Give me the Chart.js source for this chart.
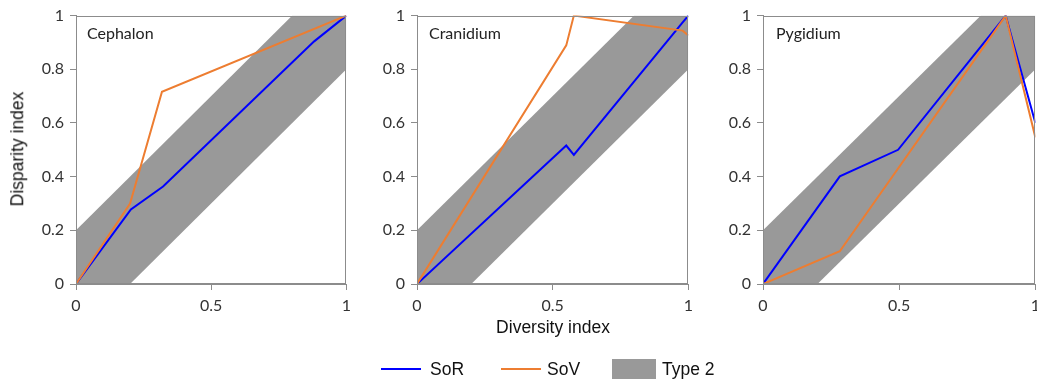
<!DOCTYPE html>
<html>
<head>
<meta charset="utf-8">
<script src="https://cdn.jsdelivr.net/npm/chart.js@4.4.0/dist/chart.umd.min.js"></script>
<style>
  html, body { margin:0; padding:0; width:1037px; height:383px; overflow:hidden; background:#fff; }
  .pane { position:absolute; top:0; height:340px; }
  .lbl { position:absolute; font-family: Lato, "Open Sans", sans-serif; font-size:16px; color:#222; white-space:nowrap; line-height:1; }
  .ttl { position:absolute; font-family: "Liberation Sans", Arial, sans-serif; font-size:17.5px; color:#111; white-space:nowrap; line-height:1; }
  .leg { position:absolute; font-family: "Liberation Sans", Arial, sans-serif; font-size:17.5px; color:#111; line-height:1; white-space:nowrap; }
</style>
</head>
<body>
<div class="pane" id="p0" style="left:0px;width:357px"><canvas id="c0"></canvas></div>
<div class="pane" id="p1" style="left:341px;width:358px"><canvas id="c1"></canvas></div>
<div class="pane" id="p2" style="left:687px;width:359px"><canvas id="c2"></canvas></div>

<div class="lbl" style="left:87px;top:25px">Cephalon</div>
<div class="lbl" style="left:429px;top:25px">Cranidium</div>
<div class="lbl" style="left:776px;top:25px">Pygidium</div>

<div class="ttl" style="left:18px;top:149px;transform:translate(-50%,-50%) rotate(-90deg)">Disparity index</div>
<div class="ttl" style="left:553px;top:328px;transform:translate(-50%,-50%)">Diversity index</div>

<div style="position:absolute;left:381px;top:368px;width:40px;height:2px;background:#0000ff"></div>
<div class="leg" style="left:430px;top:361px">SoR</div>
<div style="position:absolute;left:501px;top:368px;width:40px;height:2px;background:#ed7d31"></div>
<div class="leg" style="left:547px;top:361px">SoV</div>
<div style="position:absolute;left:612px;top:359px;width:44px;height:20px;background:#999999"></div>
<div class="leg" style="left:662px;top:361px">Type 2</div>

<script>
// ---- data ----
const panels = ["Cephalon", "Cranidium", "Pygidium"];
const xTicks = [0, 0.5, 1];
const yTicks = [0, 0.2, 0.4, 0.6, 0.8, 1];

// Type 2 envelope boundaries (y = x +/- 0.2, clipped to the unit square)
const bandUpper = [{x:0,y:0.2},{x:0.8,y:1},{x:1,y:1}];
const bandLower = [{x:0,y:0},{x:0.2,y:0},{x:1,y:0.8}];

// Cephalon
const cephalonSoR = [{x:0,y:0},{x:0.203,y:0.278},{x:0.322,y:0.363},{x:0.881,y:0.904},{x:1,y:1}];
const cephalonSoV = [{x:0,y:0},{x:0.2,y:0.30},{x:0.318,y:0.716},{x:1,y:1}];
// Cranidium
const cranidiumSoR = [{x:0,y:0},{x:0.55,y:0.516},{x:0.578,y:0.481},{x:0.979,y:0.975},{x:1,y:1}];
const cranidiumSoV = [{x:0,y:0},{x:0.55,y:0.889},{x:0.578,y:1.0},{x:0.979,y:0.944},{x:1,y:0.926}];
// Pygidium
const pygidiumSoR = [{x:0,y:0},{x:0.282,y:0.401},{x:0.496,y:0.5},{x:0.891,y:1},{x:1,y:0.6}];
const pygidiumSoV = [{x:0,y:0},{x:0.282,y:0.122},{x:0.891,y:1},{x:1,y:0.546}];

const sorSeries = [cephalonSoR, cranidiumSoR, pygidiumSoR];
const sovSeries = [cephalonSoV, cranidiumSoV, pygidiumSoV];

// ---- layout ----
const plotWidths = [271, 272, 273];
const Y_AXIS_W = 76, TOP = 14, PLOT_H = 270, CANVAS_H = 340;

const framePlugin = {
  id: 'frame',
  afterDatasetsDraw(chart) {
    const a = chart.chartArea, ctx = chart.ctx;
    ctx.save();
    ctx.strokeStyle = '#8c8c8c';
    ctx.lineWidth = 1;
    ctx.strokeRect(Math.round(a.left) + 0.5, Math.round(a.top) + 0.5, Math.round(a.right - a.left) - 1, Math.round(a.bottom - a.top) - 1);
    ctx.restore();
  }
};

const tickFont = { family: 'Lato, "Open Sans", sans-serif', size: 16 };

panels.forEach((name, i) => {
  const w = Y_AXIS_W + plotWidths[i] + 10;
  const pane = document.getElementById('p' + i);
  pane.style.width = w + 'px';
  const cv = document.getElementById('c' + i);
  new Chart(cv, {
    type: 'scatter',
    data: {
      datasets: [
        { label: 'SoV', data: sovSeries[i], showLine: true, borderColor: '#ed7d31', borderWidth: 2, pointRadius: 0, order: 0, tension: 0 },
        { label: 'SoR', data: sorSeries[i], showLine: true, borderColor: '#0000ff', borderWidth: 2, pointRadius: 0, order: 1, tension: 0 },
        { label: 'Type 2', data: bandUpper, showLine: true, borderWidth: 0, borderColor: 'rgba(0,0,0,0)', pointRadius: 0, backgroundColor: '#999999', fill: '+1', order: 2 },
        { label: 'band lower', data: bandLower, showLine: true, borderWidth: 0, borderColor: 'rgba(0,0,0,0)', pointRadius: 0, fill: false, order: 3 }
      ]
    },
    options: {
      responsive: true,
      maintainAspectRatio: false,
      animation: false,
      devicePixelRatio: 1,
      layout: { padding: { top: TOP, right: 10, left: 0, bottom: 0 } },
      plugins: { legend: { display: false }, tooltip: { enabled: false } },
      scales: {
        x: {
          type: 'linear', min: 0, max: 1,
          afterBuildTicks: s => { s.ticks = xTicks.map(v => ({ value: v })); },
          afterFit: s => { s.height = CANVAS_H - TOP - PLOT_H; },
          grid: { display: true, drawOnChartArea: false, drawTicks: true, tickLength: 6, color: '#8c8c8c' },
          border: { display: true, color: '#8c8c8c' },
          ticks: { font: tickFont, color: '#333', padding: 6, maxRotation: 0, callback: v => String(v) }
        },
        y: {
          type: 'linear', min: 0, max: 1,
          afterBuildTicks: s => { s.ticks = yTicks.map(v => ({ value: v })); },
          afterFit: s => { s.width = Y_AXIS_W; },
          grid: { display: true, drawOnChartArea: false, drawTicks: true, tickLength: 6, color: '#8c8c8c' },
          border: { display: true, color: '#8c8c8c' },
          ticks: { font: tickFont, color: '#333', padding: 6, callback: v => String(v) }
        }
      }
    },
    plugins: [framePlugin]
  });
});
</script>
</body>
</html>
